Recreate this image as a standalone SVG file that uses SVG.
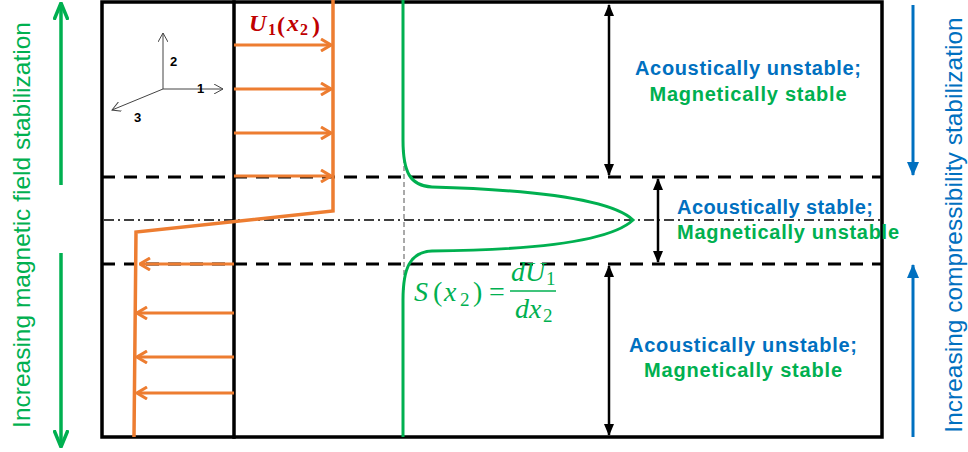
<svg xmlns="http://www.w3.org/2000/svg" width="968" height="452" viewBox="0 0 968 452">
<style>
.frame{stroke:#000;stroke-width:3.5;fill:none;stroke-linecap:square}
.dash{stroke:#000;stroke-width:3;stroke-dasharray:13 9;fill:none}
.dashdot{stroke:#000;stroke-width:1.3;stroke-dasharray:10 4 2 4;fill:none}
.thin{stroke:#555;stroke-width:1;stroke-dasharray:5 3;fill:none}
.orange{stroke:#ED7D31;stroke-width:3.5;fill:none}
.oarrow{stroke:#ED7D31;stroke-width:3;fill:none;marker-end:url(#mo)}
.green{stroke:#00B050;stroke-width:3;fill:none}
.black2{stroke:#000;stroke-width:2.5;fill:none;marker-start:url(#mk);marker-end:url(#mk)}
.blue{stroke:#0070C0;stroke-width:3;fill:none;marker-end:url(#mb)}
.garrow{stroke:#00B050;stroke-width:3.5;fill:none;marker-end:url(#mg)}
.axis{stroke:#444;stroke-width:1;fill:none;marker-end:url(#ma)}
.lbl{font-family:"Liberation Sans",Arial,sans-serif;font-weight:bold;font-size:20px;text-anchor:middle}
.bl{fill:#0070C0}
.gr{fill:#00B050}
.side{font-family:"Liberation Sans",Arial,sans-serif;font-size:24.5px;text-anchor:middle}
.math{font-family:"Liberation Serif","DejaVu Serif",serif;font-style:italic}
.up{font-style:normal}
.ax{font-family:"Liberation Sans",Arial,sans-serif;font-weight:bold;font-size:13px;fill:#000}
</style>
<defs>
<marker id="mo" markerUnits="userSpaceOnUse" viewBox="0 0 12 14" refX="11" refY="7" markerWidth="12" markerHeight="14" orient="auto">
<path d="M1,1 L11,7 L1,13" fill="none" stroke="#ED7D31" stroke-width="3"/>
</marker>
<marker id="mk" markerUnits="userSpaceOnUse" viewBox="0 0 12 10" refX="11" refY="5" markerWidth="12" markerHeight="10" orient="auto-start-reverse">
<path d="M0,0 L12,5 L0,10 Z" fill="#000"/>
</marker>
<marker id="mb" markerUnits="userSpaceOnUse" viewBox="0 0 14 12" refX="13" refY="6" markerWidth="14" markerHeight="12" orient="auto">
<path d="M0,0 L14,6 L0,12 Z" fill="#0070C0"/>
</marker>
<marker id="mg" markerUnits="userSpaceOnUse" viewBox="0 0 18 16" refX="17" refY="8" markerWidth="18" markerHeight="16" orient="auto">
<path d="M0,1 L17,8 L0,15" fill="none" stroke="#00B050" stroke-width="3.5"/>
</marker>
<marker id="ma" markerUnits="userSpaceOnUse" viewBox="0 0 10 10" refX="9" refY="5" markerWidth="10" markerHeight="10" orient="auto">
<path d="M0,0 L9,5 L0,10" fill="none" stroke="#444" stroke-width="1"/>
</marker>
</defs>

<g id="frame">
<path class="frame" d="M102,2 H882 V437 H102 Z"/>
<line class="frame" x1="234" y1="2" x2="234" y2="437"/>
</g>

<g id="bands">
<line class="dash" x1="102" y1="177" x2="883" y2="177"/>
<line class="dash" x1="102" y1="264" x2="883" y2="264"/>
<line class="dashdot" x1="104" y1="220" x2="881" y2="220"/>
<line class="thin" x1="404" y1="150" x2="404" y2="290"/>
</g>

<g id="axes">
<line class="axis" x1="163" y1="89" x2="163" y2="33"/>
<line class="axis" x1="163" y1="89" x2="223" y2="89"/>
<line class="axis" x1="163" y1="89" x2="112" y2="110"/>
<text class="ax" x="170" y="66">2</text>
<text class="ax" x="197" y="93">1</text>
<text class="ax" x="134" y="122">3</text>
</g>

<g id="velocity-profile">
<path class="orange" d="M333,0 V211 L136,232 L134,437"/>
<line class="oarrow" x1="234" y1="45" x2="331" y2="45"/>
<line class="oarrow" x1="234" y1="89" x2="331" y2="89"/>
<line class="oarrow" x1="234" y1="133" x2="331" y2="133"/>
<line class="oarrow" x1="234" y1="176" x2="331" y2="176"/>
<line class="oarrow" x1="234" y1="264" x2="140" y2="264"/>
<line class="oarrow" x1="234" y1="313" x2="137" y2="313"/>
<line class="oarrow" x1="234" y1="357" x2="137" y2="357"/>
<line class="oarrow" x1="234" y1="393" x2="137" y2="393"/>
<g class="math" fill="#C00000" font-weight="bold">
<text x="249" y="31" font-size="24">U</text>
<text x="268" y="35" font-size="16" class="up">1</text>
<text x="277" y="33" font-size="24" class="up">(</text>
<text x="287" y="31" font-size="24">x</text>
<text x="300" y="35" font-size="16" class="up">2</text>
<text x="312" y="33" font-size="24" class="up">)</text>
</g>
</g>

<g id="shear-profile">
<path class="green" d="M403,0 V140 C403,172 410,186 432,187 C540,190 612,200 633,220 C612,240 540,250 432,251 C410,252 403,268 403,300 V437"/>
<g class="math" fill="#00B050">
<text x="414" y="301" font-size="28">S</text>
<text x="433" y="301" font-size="28" class="up">(</text>
<text x="444" y="301" font-size="28">x</text>
<text x="460" y="306" font-size="19" class="up">2</text>
<text x="473" y="301" font-size="28" class="up">)</text>
<text x="489" y="301" font-size="28" class="up">=</text>
<text x="511" y="281" font-size="28">dU</text>
<text x="546" y="285" font-size="19" class="up">1</text>
<text x="515" y="318" font-size="28">dx</text>
<text x="543" y="322" font-size="19" class="up">2</text>
</g>
<line x1="510" y1="291" x2="556" y2="291" stroke="#00B050" stroke-width="1.5"/>
</g>

<g id="connectors">
<line class="black2" x1="609" y1="5" x2="609" y2="175"/>
<line class="black2" x1="658" y1="179" x2="658" y2="262"/>
<line class="black2" x1="609" y1="266" x2="609" y2="435"/>
<line class="blue" x1="913" y1="5" x2="913" y2="175"/>
<line class="blue" x1="913" y1="437" x2="913" y2="265"/>
<line class="garrow" x1="61" y1="185" x2="61" y2="3"/>
<line class="garrow" x1="61" y1="253" x2="61" y2="447"/>
</g>

<g id="region-top">
<text class="lbl bl" x="748" y="75" textLength="226" lengthAdjust="spacing">Acoustically unstable;</text>
<text class="lbl gr" x="748" y="101" textLength="197" lengthAdjust="spacing">Magnetically stable</text>
</g>
<g id="region-middle">
<text class="lbl bl" x="775" y="214" textLength="196" lengthAdjust="spacing">Acoustically stable;</text>
<text class="lbl gr" x="788" y="239" textLength="222" lengthAdjust="spacing">Magnetically unstable</text>
</g>
<g id="region-bottom">
<text class="lbl bl" x="743" y="352" textLength="228" lengthAdjust="spacing">Acoustically unstable;</text>
<text class="lbl gr" x="743" y="377" textLength="198" lengthAdjust="spacing">Magnetically stable</text>
</g>

<g id="side-labels">
<text class="side gr" transform="translate(30,225) rotate(-90)">Increasing magnetic field stabilization</text>
<text class="side bl" transform="translate(962,225) rotate(-90)">Increasing compressibility stabilization</text>
</g>
</svg>
